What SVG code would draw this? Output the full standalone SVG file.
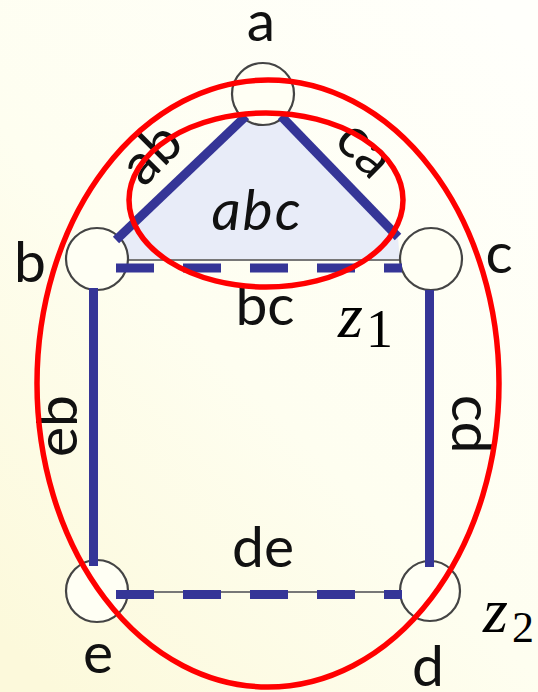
<svg xmlns="http://www.w3.org/2000/svg" width="538" height="692" viewBox="0 0 538 692">
<defs>
<linearGradient id="bg" x1="0.9" y1="0" x2="0.1" y2="1">
<stop offset="0" stop-color="#fffffb"/>
<stop offset="0.55" stop-color="#fefef0"/>
<stop offset="1" stop-color="#fcf9db"/>
</linearGradient>
<style>
.node{fill:#fffff4;stroke:#444;stroke-width:2.2}
.edge{stroke:#353597;stroke-width:9;fill:none;stroke-linecap:butt}
.dash{stroke-dasharray:38 29}
.thin{stroke:#777;stroke-width:2;fill:none}
.lbl{font-family:Lato,"Liberation Sans",sans-serif;font-size:57px;fill:#111;text-anchor:middle}
.math{font-family:"Liberation Serif",serif;fill:#000}
.zone{fill:none;stroke:#ff0000;stroke-width:5.5}
</style>
</defs>
<rect width="538" height="692" fill="url(#bg)"/>
<g id="face-abc">
<polygon points="263,105 116,240 128,260 400,260 398,238" fill="#e8ecf8"/>
</g>
<g id="connectors">
<line class="thin" x1="128" y1="260" x2="400" y2="260"/>
<line class="thin" x1="129" y1="592" x2="399" y2="592"/>
</g>
<g id="node-a"><circle class="node" cx="263" cy="94" r="31"/><text class="lbl" x="261" y="41">a</text></g>
<g id="node-b"><circle class="node" cx="97" cy="259" r="31"/><text class="lbl" x="30" y="282">b</text></g>
<g id="node-c"><circle class="node" cx="431" cy="259" r="31"/><text class="lbl" x="499" y="273">c</text></g>
<g id="node-e"><circle class="node" cx="97" cy="591" r="31"/><text class="lbl" x="98" y="673">e</text></g>
<g id="node-d"><circle class="node" cx="430" cy="591" r="30"/><text class="lbl" x="428" y="686">d</text></g>
<g id="edges">
<line class="edge" x1="116" y1="240" x2="246" y2="116"/>
<line class="edge" x1="281" y1="116" x2="398" y2="237"/>
<line class="edge dash" x1="116" y1="268" x2="402" y2="268"/>
<line class="edge dash" x1="116" y1="594.5" x2="402" y2="594.5"/>
<line class="edge" x1="93.5" y1="288" x2="93.5" y2="566"/>
<line class="edge" x1="429.5" y1="290" x2="429.5" y2="567"/>
</g>
<g id="edge-labels">
<text class="lbl" transform="translate(150,152) rotate(-45)" y="21">ab</text>
<text class="lbl" transform="translate(362,152) rotate(45)" y="14">ca</text>
<text class="lbl" x="265" y="325">bc</text>
<text class="lbl" x="263" y="567">de</text>
<text class="lbl" transform="translate(77,426) rotate(-90)">eb</text>
<text class="lbl" transform="translate(452,424) rotate(90)">cd</text>
<text class="lbl" x="257" y="230" font-style="italic" letter-spacing="2">abc</text>
</g>
<g id="zones">
<ellipse class="zone" cx="266" cy="200" rx="137" ry="87"/>
<ellipse class="zone" cx="268" cy="383.5" rx="231" ry="303.5"/>
</g>
<g id="zone-labels">
<text class="math" x="338" y="337" font-size="64" font-style="italic">z</text>
<text class="math" x="366" y="347" font-size="54">1</text>
<text class="math" x="483" y="632" font-size="64" font-style="italic">z</text>
<text class="math" x="512" y="642" font-size="44">2</text>
</g>
</svg>
